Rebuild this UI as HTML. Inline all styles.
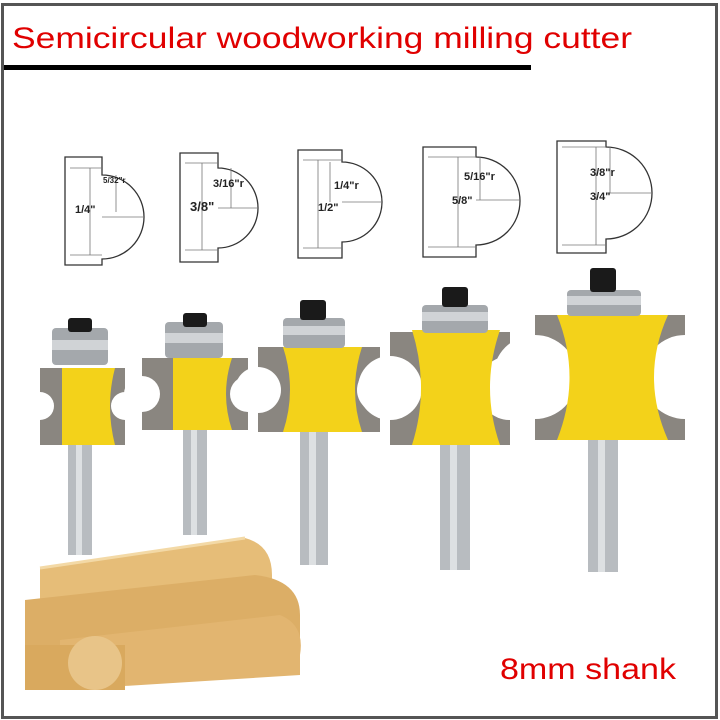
<!DOCTYPE html><html><head><style>body{margin:0;background:#fff}svg{display:block}</style></head><body>
<svg width="720" height="720" viewBox="0 0 720 720" xmlns="http://www.w3.org/2000/svg" font-family="Liberation Sans, sans-serif">
<defs><clipPath id="c"><rect x="5" y="6" width="710" height="710"/></clipPath></defs>
<rect x="0" y="0" width="720" height="720" fill="#fff"/>
<text x="12" y="48" font-size="30" fill="#e00000" textLength="620" lengthAdjust="spacingAndGlyphs">Semicircular woodworking milling cutter</text>
<rect x="3" y="65" width="528" height="5" fill="#000"/>
<g fill="none" stroke="#333" stroke-width="1.3">
<path d="M65 157H102V175A42 42 0 0 1 102 259V265H65Z"/>
<path d="M180 153H218V168A40 40 0 0 1 218 248V262H180Z"/>
<path d="M298 150H342V162A40 40 0 0 1 342 242V258H298Z"/>
<path d="M423 147H476V157A44 44 0 0 1 476 245V257H423Z"/>
<path d="M557 141H606V147A46 46 0 0 1 606 239V253H557Z"/>
</g>
<g fill="none" stroke="#777" stroke-width="0.8">
<path d="M70 168H102M70 255H102M90 168V255M116 175V212M102 217H143"/>
<path d="M185 163H218M185 250H218M202 163V250M231 168V208M218 208H258"/>
<path d="M303 160H342M303 248H342M318 160V248M330 162V202M342 202H381"/>
<path d="M428 157H476M428 247H476M458 157V247M480 157V200M476 200H520"/>
<path d="M562 147H606M562 245H606M596 147V245M610 147V193M606 193H651"/>
</g>
<g font-size="11" font-weight="bold" fill="#222">
<text x="75" y="213">1/4"</text><text x="103" y="183" font-size="8">5/32"r</text>
<text x="190" y="211" font-size="13">3/8"</text><text x="213" y="187">3/16"r</text>
<text x="318" y="211">1/2"</text><text x="334" y="189">1/4"r</text>
<text x="452" y="204">5/8"</text><text x="464" y="180">5/16"r</text>
<text x="590" y="200">3/4"</text><text x="590" y="176">3/8"r</text>
</g>
<g clip-path="url(#c)">
<g>
<rect x="68" y="440" width="24" height="115" fill="#b8bcc0"/><rect x="76" y="440" width="6" height="115" fill="#dde0e2"/>
<path d="M40 368H125V445H40Z" fill="#8a8680"/><circle cx="40" cy="406" r="14" fill="#fff"/><circle cx="125" cy="406" r="14" fill="#fff"/>
<path d="M62 368H115Q105 406 115 445H62Z" fill="#f3d21a"/>
<rect x="52" y="328" width="56" height="37" rx="4" fill="#a4a8ac"/><rect x="52" y="340" width="56" height="10" fill="#d0d3d6"/>
<rect x="68" y="318" width="24" height="14" rx="3" fill="#1a1a1a"/>
</g>
<g>
<rect x="183" y="425" width="24" height="110" fill="#b8bcc0"/><rect x="191" y="425" width="6" height="110" fill="#dde0e2"/>
<path d="M142 358H248V430H142Z" fill="#8a8680"/><circle cx="142" cy="394" r="18" fill="#fff"/><circle cx="248" cy="394" r="18" fill="#fff"/>
<path d="M173 358H232Q220 394 232 430H173Z" fill="#f3d21a"/>
<rect x="165" y="322" width="58" height="36" rx="4" fill="#a4a8ac"/><rect x="165" y="333" width="58" height="10" fill="#d0d3d6"/>
<rect x="183" y="313" width="24" height="14" rx="3" fill="#1a1a1a"/>
</g>
<g>
<rect x="300" y="428" width="28" height="137" fill="#b8bcc0"/><rect x="309" y="428" width="7" height="137" fill="#dde0e2"/>
<path d="M258 347H380V432H258Z" fill="#8a8680"/><circle cx="258" cy="390" r="23" fill="#fff"/><circle cx="380" cy="390" r="23" fill="#fff"/>
<path d="M283 347H362Q348 390 362 432H283Q297 390 283 347Z" fill="#f3d21a"/>
<rect x="283" y="318" width="62" height="30" rx="4" fill="#a4a8ac"/><rect x="283" y="326" width="62" height="9" fill="#d0d3d6"/>
<rect x="300" y="300" width="26" height="20" rx="3" fill="#1a1a1a"/>
</g>
<g>
<rect x="440" y="443" width="30" height="127" fill="#b8bcc0"/><rect x="450" y="443" width="7" height="127" fill="#dde0e2"/>
<path d="M390 332H510V445H390Z" fill="#8a8680"/><circle cx="390" cy="388" r="32" fill="#fff"/><circle cx="510" cy="388" r="32" fill="#fff"/>
<path d="M412 330H500Q480 388 500 445H412Q430 388 412 330Z" fill="#f3d21a"/>
<rect x="422" y="305" width="66" height="28" rx="4" fill="#a4a8ac"/><rect x="422" y="312" width="66" height="9" fill="#d0d3d6"/>
<rect x="442" y="287" width="26" height="20" rx="3" fill="#1a1a1a"/>
</g>
<g>
<rect x="588" y="438" width="30" height="134" fill="#b8bcc0"/><rect x="598" y="438" width="7" height="134" fill="#dde0e2"/>
<path d="M535 315H685V440H535Z" fill="#8a8680"/><circle cx="535" cy="377" r="42" fill="#fff"/><circle cx="685" cy="377" r="42" fill="#fff"/>
<path d="M557 315H668Q640 377 668 440H557Q582 377 557 315Z" fill="#f3d21a"/>
<rect x="567" y="290" width="74" height="26" rx="4" fill="#a4a8ac"/><rect x="567" y="296" width="74" height="9" fill="#d0d3d6"/>
<rect x="590" y="268" width="26" height="24" rx="3" fill="#1a1a1a"/>
</g>
</g>
<g>
<path d="M40 568L245 538Q272 545 272 575L272 600L40 618Z" fill="#e6bd78"/>
<path d="M25 600L255 575Q300 580 300 615L300 640L25 660Z" fill="#dcae66"/>
<path d="M60 640L280 615Q305 625 300 655L300 675L60 690Z" fill="#e2b570"/>
<rect x="25" y="645" width="100" height="45" fill="#d9a95e"/>
<circle cx="95" cy="663" r="27" fill="#e8c488"/>
<path d="M40 568L245 538" stroke="#f3d9a6" stroke-width="3" fill="none"/>
</g>
<rect x="2.5" y="4.5" width="714" height="713" fill="none" stroke="#555" stroke-width="3"/>
<text x="500" y="679" font-size="30" fill="#e00000" textLength="176" lengthAdjust="spacingAndGlyphs">8mm shank</text>
</svg>
</body></html>
